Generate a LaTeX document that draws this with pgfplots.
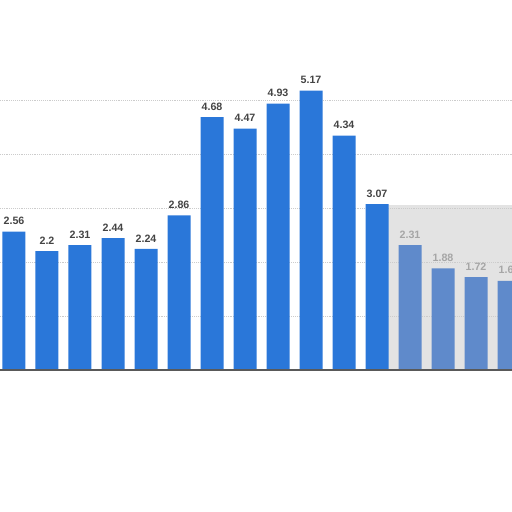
\documentclass[border=0pt]{standalone}
\usepackage{pgfplots}
\pgfplotsset{compat=1.18}
\usepackage{fontspec}
\setmainfont{Liberation Sans}
\definecolor{barblue}{HTML}{2A77D9}
\definecolor{fadeblue}{HTML}{5F8ACB}
\definecolor{labgray}{HTML}{444444}

\begin{document}
\begin{tikzpicture}[x=1pt,y=1pt]
\useasboundingbox (0,0) rectangle (384,384);
\clip (0,0) rectangle (384,384);
% faded area on the right
\fill[gray!22] (290,106) rectangle (384,230);
\begin{axis}[
    at={(0,0)}, anchor=south west,
    scale only axis,
    width=384pt, height=384pt,
    xmin=-0.424, xmax=15.09,
    ymin=-2.63, ymax=6.85,
    axis line style={draw=none},
    ytick={1,2,3,4,5}, yticklabels={},
    xtick=\empty,
    major tick length=0pt,
    ymajorgrids,
    grid style={gray!40, densely dotted, line width=0.4pt},
    ybar, bar width=17.25pt,
    clip=false,
    nodes near coords,
    every node near coord/.append style={font=\fontsize{8}{9}\selectfont\bfseries, inner sep=1pt, yshift=4pt},
    ]
\addplot+[bar shift=0pt, draw=none, fill=barblue,
  every node near coord/.append style={text=labgray},
  point meta=explicit symbolic] coordinates {
(0,2.56) [2.56]
(1,2.20) [2.2]
(2,2.31) [2.31]
(3,2.44) [2.44]
(4,2.24) [2.24]
(5,2.86) [2.86]
(6,4.68) [4.68]
(7,4.47) [4.47]
(8,4.93) [4.93]
(9,5.17) [5.17]
(10,4.34) [4.34]
(11,3.07) [3.07]
};
\addplot+[bar shift=0pt, draw=none, fill=fadeblue,
  every node near coord/.append style={text=gray!70},
  point meta=explicit symbolic] coordinates {
(12,2.31) [2.31]
(13,1.88) [1.88]
(14,1.72) [1.72]
(15,1.65) [1.65]
};
\draw[gray!70!black, line width=1pt] (axis cs:-0.5,0) -- (axis cs:15.2,0);
\end{axis}
\end{tikzpicture}
\end{document}
